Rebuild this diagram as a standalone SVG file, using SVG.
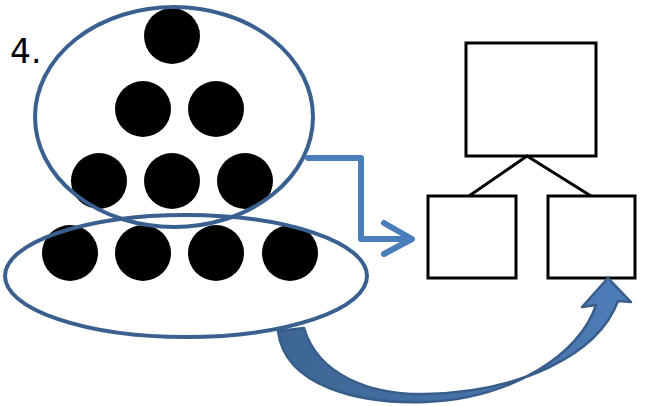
<svg xmlns="http://www.w3.org/2000/svg" width="645" height="406" viewBox="0 0 645 406">
<defs>
<style>
.dot{fill:#000}
.grp{fill:none;stroke:#3A6090;stroke-width:4}
.box{fill:#fff;stroke:#000;stroke-width:3}
.tree{stroke:#000;stroke-width:3;fill:none}
.elbow{fill:none;stroke:#4A7EBB;stroke-width:6;stroke-linejoin:round;stroke-linecap:round}
</style>
<linearGradient id="g" x1="0" y1="0" x2="1" y2="0">
<stop offset="0" stop-color="#3D6594"/>
<stop offset="1" stop-color="#4D7DB8"/>
</linearGradient>
</defs>
<rect width="645" height="406" fill="#fff"/>
<text x="10" y="63" font-family="DejaVu Sans, Verdana, sans-serif" font-size="33" fill="#000">4.</text>
<g id="dots">
<circle class="dot" cx="172" cy="36" r="28"/>
<circle class="dot" cx="143" cy="109" r="28"/>
<circle class="dot" cx="216" cy="109" r="28"/>
<circle class="dot" cx="99" cy="181" r="28"/>
<circle class="dot" cx="172" cy="181" r="28"/>
<circle class="dot" cx="245" cy="181" r="28"/>
<circle class="dot" cx="70" cy="253" r="28"/>
<circle class="dot" cx="143" cy="253" r="28"/>
<circle class="dot" cx="216" cy="253" r="28"/>
<circle class="dot" cx="290" cy="253" r="28"/>
</g>
<g id="group-top"><ellipse class="grp" cx="174" cy="117" rx="139" ry="110"/></g>
<g id="group-bottom"><ellipse class="grp" cx="186" cy="276" rx="181" ry="61"/></g>
<g id="box-top"><rect class="box" x="466" y="43" width="130" height="113"/></g>
<g id="box-left"><rect class="box" x="428" y="196" width="88" height="82"/></g>
<g id="box-right"><rect class="box" x="548" y="196" width="87" height="82"/></g>
<g id="connectors">
<path class="tree" d="M469,196 L527,156 L591,196"/>
<path class="elbow" d="M308,158 H361 V239 H410"/>
<path class="elbow" d="M384,223 L412,239 L384,254"/>
<path d="M278,331 C285,387 360,404 425,402 C510,399 580,355 596,305 L582,307 L608,278 L631,302 L618,301 C598,355 520,392 425,394 C370,395 318,375 304,328 Z" fill="url(#g)" stroke="#385D8A" stroke-width="2.5" stroke-linejoin="round"/>
</g>
</svg>
